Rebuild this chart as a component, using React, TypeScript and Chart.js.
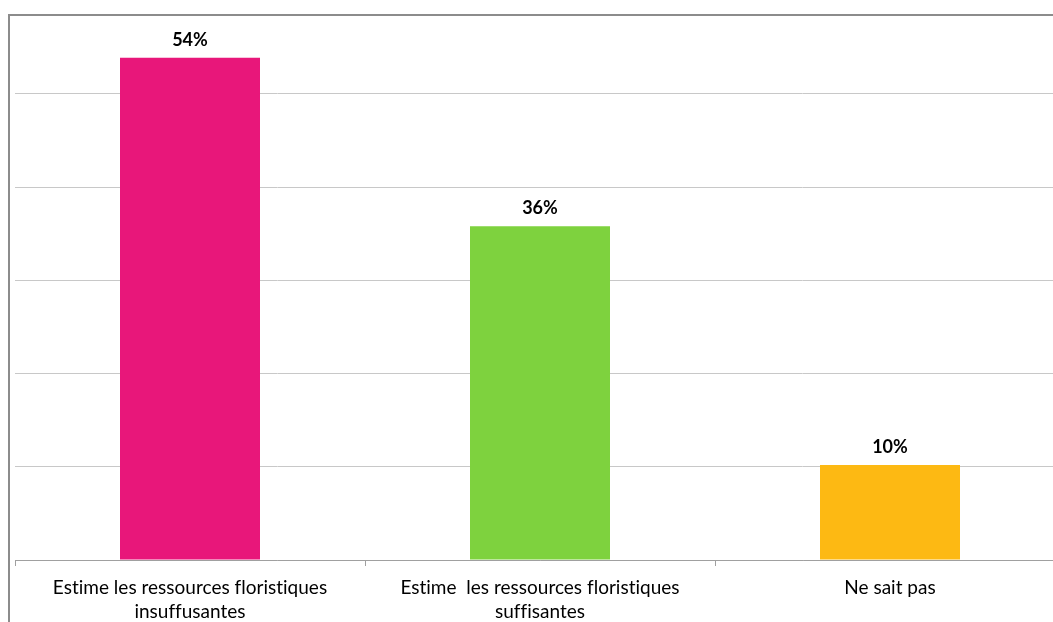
import React, { useEffect, useRef } from "react";
import { Chart, registerables } from "chart.js";

Chart.register(...registerables);

const categories: string[][] = [
  ["Estime les ressources floristiques", "insuffusantes"],
  ["Estime  les ressources floristiques", "suffisantes"],
  ["Ne sait pas"],
];
const values: number[] = [53.9, 35.8, 10.2];
const barColors: string[] = ["#E8177A", "#7ED23E", "#FDB913"];
const yMax = 60;
const yStep = 10;

const noLigatures = {
  id: "noLigatures",
  beforeDraw(chart: any) {
    const ctx = chart.ctx as any;
    if ("letterSpacing" in ctx) ctx.letterSpacing = "0.01px";
  },
};

const valueLabels = {
  id: "valueLabels",
  afterDatasetsDraw(chart: any) {
    const ctx = chart.ctx;
    const meta = chart.getDatasetMeta(0);
    ctx.save();
    ctx.font = "bold 18px Lato";
    ctx.fillStyle = "#000000";
    ctx.textAlign = "center";
    ctx.textBaseline = "alphabetic";
    meta.data.forEach((bar: any, i: number) => {
      ctx.fillText(Math.round(values[i]) + "%", bar.x, bar.y - 12);
    });
    ctx.restore();
  },
};

export default function App() {
  const ref = useRef<HTMLCanvasElement>(null);
  useEffect(() => {
    if (!ref.current) return;
    const chart = new Chart(ref.current, {
      type: "bar",
      data: {
        labels: categories,
        datasets: [
          {
            data: values,
            backgroundColor: barColors,
            borderWidth: 0,
            barPercentage: 0.4,
            categoryPercentage: 1,
          },
        ],
      },
      options: {
        animation: false,
        responsive: false,
        maintainAspectRatio: false,
        layout: { padding: { left: 5, top: 20.8, right: 0, bottom: 0 } },
        plugins: { legend: { display: false }, tooltip: { enabled: false } },
        scales: {
          x: {
            offset: true,
            grid: {
              offset: true,
              drawOnChartArea: false,
              drawTicks: true,
              tickLength: 6,
              color: "#a0a0a0",
            },
            border: { display: true, color: "#a0a0a0", width: 1 },
            ticks: {
              color: "#000000",
              font: { family: "Lato", size: 19, lineHeight: 1.27 },
              padding: 10,
              maxRotation: 0,
              autoSkip: false,
            },
            afterFit: (scale: any) => {
              scale.height = 100;
            },
          },
          y: {
            min: 0,
            max: yMax,
            ticks: { display: false, stepSize: yStep },
            grid: { color: "#c8c8c8", drawTicks: false },
            border: { display: false },
          },
        },
      },
      plugins: [noLigatures, valueLabels],
    });
    return () => chart.destroy();
  }, []);

  return (
    <div
      style={{
        position: "fixed",
        left: 0,
        top: 0,
        width: 1053,
        height: 622,
        overflow: "hidden",
        background: "#ffffff",
      }}
    >
      <div
        style={{
          position: "absolute",
          left: 8,
          top: 14,
          width: 1100,
          height: 700,
          borderLeft: "2px solid #8c8c8c",
          borderTop: "2px solid #8c8c8c",
          overflow: "hidden",
        }}
      >
        <canvas
          ref={ref}
          width={1055}
          height={680}
          style={{ position: "absolute", left: 0, top: -36, width: 1055, height: 680 }}
        />
      </div>
    </div>
  );
}
